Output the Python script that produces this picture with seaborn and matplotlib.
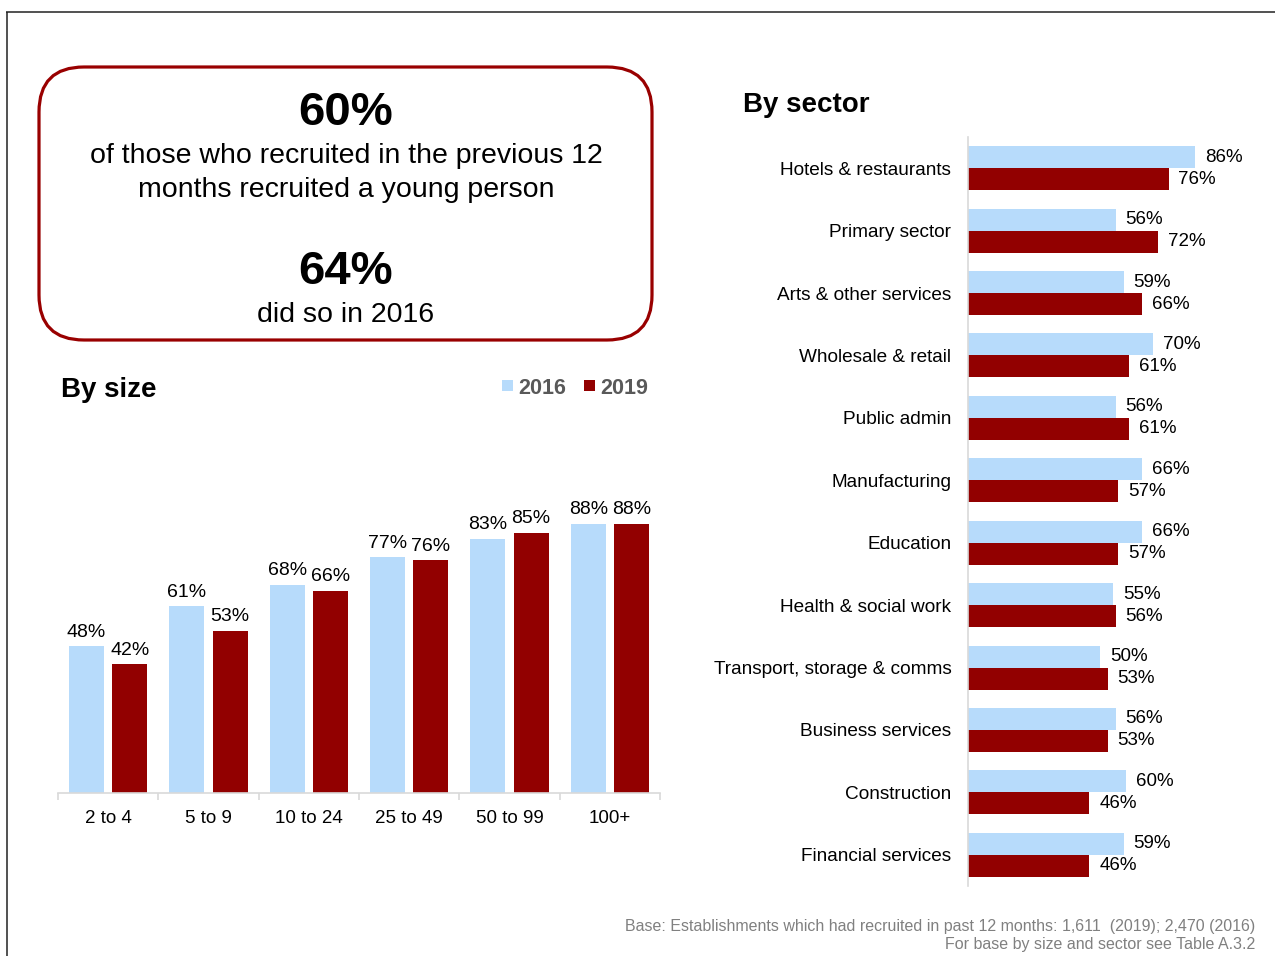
import matplotlib
matplotlib.use("Agg")
import matplotlib.pyplot as plt
from matplotlib.patches import FancyBboxPatch, Rectangle
import seaborn as sns
import pandas as pd

# ---- data ----
size_cats = ["2 to 4", "5 to 9", "10 to 24", "25 to 49", "50 to 99", "100+"]
size_2016 = [48, 61, 68, 77, 83, 88]
size_2019 = [42, 53, 66, 76, 85, 88]

sectors = ["Hotels & restaurants", "Primary sector", "Arts & other services",
           "Wholesale & retail", "Public admin", "Manufacturing", "Education",
           "Health & social work", "Transport, storage & comms",
           "Business services", "Construction", "Financial services"]
sec_2016 = [86, 56, 59, 70, 56, 66, 66, 55, 50, 56, 60, 59]
sec_2019 = [76, 72, 66, 61, 61, 57, 57, 56, 53, 53, 46, 46]

years = ["2016", "2019"]
BLUE = "#B7DBFB"
RED = "#920000"
palette = {"2016": BLUE, "2019": RED}

sns.set_theme(style="white")
plt.rcParams["font.family"] = ["Liberation Sans", "DejaVu Sans"]
plt.rcParams["text.color"] = "black"
plt.rcParams["axes.labelcolor"] = "black"
plt.rcParams["xtick.color"] = "black"
plt.rcParams["ytick.color"] = "black"

W, H = 1275, 956
fig = plt.figure(figsize=(W / 100, H / 100), dpi=100)
fig.patch.set_facecolor("white")


def fx(px):
    return px / W


def fy(py):
    return 1 - py / H


# ---- left: by size ----
df_size = pd.DataFrame({
    "cat": size_cats * 2,
    "year": [years[0]] * len(size_cats) + [years[1]] * len(size_cats),
    "val": size_2016 + size_2019,
})
L_left, L_right, L_bot, L_top = 58, 660, 793, 487
ax1 = fig.add_axes([fx(L_left), fy(L_bot), fx(L_right - L_left), (L_bot - L_top) / H])
sns.barplot(data=df_size, x="cat", y="val", hue="year", order=size_cats,
            hue_order=years, palette=palette, width=0.86, gap=0.19,
            linewidth=0, saturation=1, ax=ax1, legend=False)
ax1.set_xlim(-0.5, len(size_cats) - 0.5)
ax1.set_ylim(0, 100)
for cont in ax1.containers:
    ax1.bar_label(cont, fmt="%d%%", padding=4, fontsize=14, color="black")
for s in ["top", "right", "left"]:
    ax1.spines[s].set_visible(False)
ax1.spines["bottom"].set_color("#d9d9d9")
ax1.spines["bottom"].set_linewidth(1.2)
ax1.set_yticks([])
ax1.set_xlabel("")
ax1.set_ylabel("")
ax1.set_xticks(range(len(size_cats)))
ax1.set_xticklabels(size_cats, fontsize=13.5, color="black")
ax1.set_xticks([i - 0.5 for i in range(len(size_cats) + 1)], minor=True)
ax1.tick_params(axis="x", which="major", length=0, pad=12)
ax1.tick_params(axis="x", which="minor", length=5, color="#d9d9d9", width=1.2,
                bottom=True)
ax1.set_facecolor("none")

# ---- right: by sector ----
df_sec = pd.DataFrame({
    "sector": sectors * 2,
    "year": [years[0]] * len(sectors) + [years[1]] * len(sectors),
    "val": sec_2016 + sec_2019,
})
R_left, R_top, R_bot = 968, 137, 886
ax2 = fig.add_axes([fx(R_left), fy(R_bot), fx(W - R_left), (R_bot - R_top) / H])
sns.barplot(data=df_sec, y="sector", x="val", hue="year", order=sectors,
            hue_order=years, palette=palette, width=0.705, orient="h",
            linewidth=0, saturation=1, ax=ax2, legend=False)
ax2.set_xlim(0, (W - R_left) / 2.64)
ax2.set_ylim(len(sectors) - 0.5, -0.5)
for cont in ax2.containers:
    ax2.bar_label(cont, fmt="%d%%", padding=7, fontsize=13.5, color="black")
for s in ["top", "right", "bottom"]:
    ax2.spines[s].set_visible(False)
ax2.spines["left"].set_color("#d9d9d9")
ax2.spines["left"].set_linewidth(1.2)
ax2.set_xticks([])
ax2.set_xlabel("")
ax2.set_ylabel("")
ax2.set_yticks(range(len(sectors)))
ax2.set_yticklabels(sectors, fontsize=13.7, color="black")
ax2.tick_params(axis="y", length=0, pad=12)
ax2.set_facecolor("none")

# ---- overlay for annotations (pixel coordinates) ----
ov = fig.add_axes([0, 0, 1, 1], zorder=-1)
ov.set_xlim(0, W)
ov.set_ylim(H, 0)
ov.axis("off")

# outer frame
ov.plot([6, W], [12, 12], color="#222222", lw=1.1, solid_capstyle="butt")
ov.plot([7, 7], [12, H], color="#222222", lw=1.1, solid_capstyle="butt")

# rounded box
box = FancyBboxPatch((39 + 45, 67 + 45), 613 - 90, 273 - 90,
                     boxstyle="round,pad=45", fc="white", ec="#990000", lw=2.3)
ov.add_patch(box)
ov.text(346, 113, "60%", ha="center", va="center", fontsize=34, fontweight="bold")
ov.text(346, 156, "of those who recruited in the previous 12", ha="center",
        va="center", fontsize=20.5)
ov.text(346, 190, "months recruited a young person", ha="center", va="center",
        fontsize=20.5)
ov.text(346, 272, "64%", ha="center", va="center", fontsize=34, fontweight="bold")
ov.text(346, 315, "did so in 2016", ha="center", va="center", fontsize=20.5)

# titles
ov.text(61, 390, "By size", ha="left", va="center", fontsize=20, fontweight="bold")
ov.text(743, 105, "By sector", ha="left", va="center", fontsize=20, fontweight="bold")

# legend
ov.add_patch(Rectangle((502, 380), 11, 11, fc=BLUE, ec="none"))
ov.text(518, 388, years[0], ha="left", va="center", fontsize=15.5,
        fontweight="bold", color="#595959")
ov.add_patch(Rectangle((584, 380), 11, 11, fc=RED, ec="none"))
ov.text(600, 388, years[1], ha="left", va="center", fontsize=15.5,
        fontweight="bold", color="#595959")

# footnote
ov.text(1255, 926, "Base: Establishments which had recruited in past 12 months: 1,611  (2019); 2,470 (2016)",
        ha="right", va="center", fontsize=11.5, color="#808080")
ov.text(1255, 945, "For base by size and sector see Table A.3.2",
        ha="right", va="center", fontsize=11.5, color="#808080")

fig.savefig("out.png", dpi=100, facecolor="white")
